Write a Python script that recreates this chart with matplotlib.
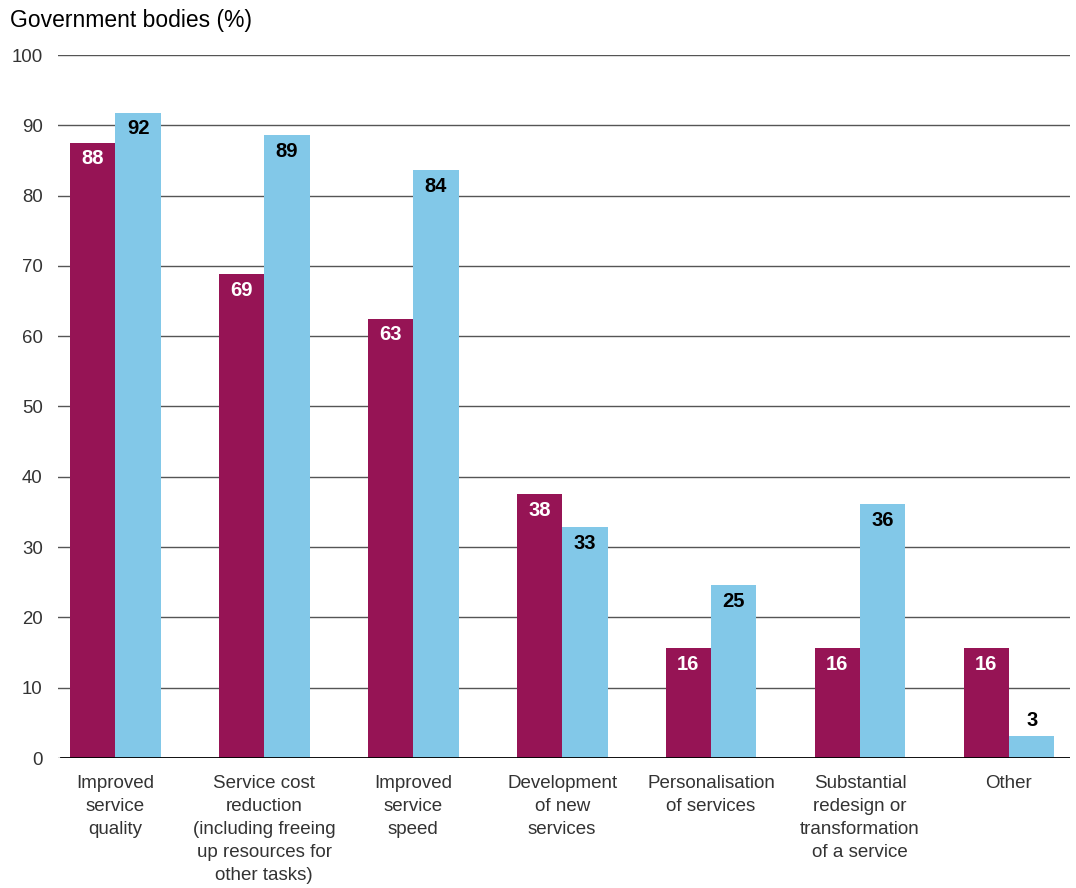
import matplotlib
matplotlib.use("Agg")
import matplotlib.pyplot as plt
import numpy as np

categories = [
    "Improved\nservice\nquality",
    "Service cost\nreduction\n(including freeing\nup resources for\nother tasks)",
    "Improved\nservice\nspeed",
    "Development\nof new\nservices",
    "Personalisation\nof services",
    "Substantial\nredesign or\ntransformation\nof a service",
    "Other",
]
series_a = [87.5, 68.8, 62.5, 37.5, 15.6, 15.6, 15.6]
series_b = [91.8, 88.6, 83.6, 32.8, 24.6, 36.1, 3.1]
yticks = [0, 10, 20, 30, 40, 50, 60, 70, 80, 90, 100]

MAROON = "#961455"
BLUE = "#82C8E8"
TXT = "#333333"

plt.rcParams['font.family'] = ['Liberation Sans', 'DejaVu Sans']

fig = plt.figure(figsize=(10.76, 8.88), dpi=100)
ax = fig.add_axes([58/1076, 130/888, 1012/1076, 703/888])

x = np.arange(len(categories))
w = 0.305
ba = ax.bar(x - w/2, series_a, width=w, color=MAROON, zorder=3)
bb = ax.bar(x + w/2, series_b, width=w, color=BLUE, zorder=3)

ax.set_xlim(-0.385, 6.41)
ax.set_ylim(0, 100)
ax.set_yticks(yticks)
ax.set_yticklabels([str(t) for t in yticks])
ax.tick_params(axis='y', length=0, pad=11, labelsize=13.4, labelcolor=TXT)
ax.set_xticks(x)
ax.set_xticklabels(categories, linespacing=1.46)
ax.tick_params(axis='x', length=0, pad=12, labelsize=13.5, labelcolor=TXT)
for s in ax.spines.values():
    s.set_visible(False)
ax.grid(axis='y', color="#555555", lw=1.0, zorder=1)
ax.axhline(0, color="black", lw=1.3, zorder=4, xmin=0.003)

def lab(v):
    return str(int(np.floor(v + 0.5)))

for rect, v in zip(ba, series_a):
    ax.annotate(lab(v), (rect.get_x() + rect.get_width()/2, v), xytext=(0, -16),
                textcoords='offset pixels',
                ha='center', va='center', color='white', fontsize=14.5,
                fontweight='bold', zorder=5)
for rect, v in zip(bb, series_b):
    inside = v > 8
    ax.annotate(lab(v), (rect.get_x() + rect.get_width()/2, v),
                xytext=(0, -16 if inside else 16), textcoords='offset pixels',
                ha='center', va='center', color='black', fontsize=14.5,
                fontweight='bold', zorder=5)

fig.text(10/1076, 1 - 20/888, "Government bodies (%)", ha='left', va='center',
         fontsize=16.5, color='black')

fig.savefig("out.png", dpi=100)
